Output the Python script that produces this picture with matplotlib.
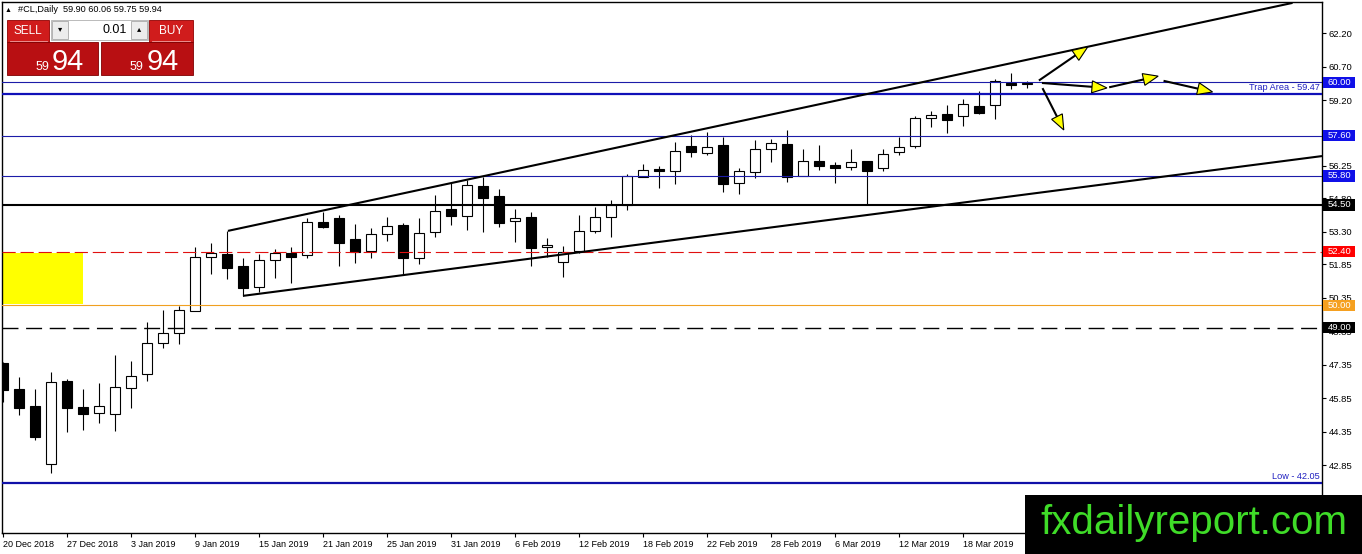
import matplotlib
matplotlib.use('Agg')
import matplotlib.pyplot as plt
from matplotlib.patches import Rectangle, Polygon
from matplotlib.transforms import blended_transform_factory
import numpy as np

plt.rcParams['font.family'] = ['Liberation Sans', 'DejaVu Sans']
plt.rcParams['lines.scale_dashes'] = False

# daily OHLC, #CL 20 Dec 2018 .. 22 Mar 2019
opens = [47.42, 46.26, 45.50, 42.90, 46.62, 45.45, 45.19, 45.14, 46.31, 46.93,
         48.32, 48.77, 49.75, 52.17, 52.31, 51.77, 50.83, 52.04, 52.35, 52.26,
         53.74, 53.92, 52.98, 52.44, 53.20, 53.60, 52.13, 53.29, 54.32, 54.01,
         55.35, 54.90, 53.78, 53.96, 52.62, 51.95, 52.44, 53.34, 53.96, 54.50,
         55.75, 56.11, 56.02, 57.14, 56.83, 57.19, 55.49, 55.98, 57.01, 57.23,
         55.80, 56.47, 56.29, 56.20, 56.47, 56.16, 56.87, 57.14, 58.40, 58.57,
         58.49, 58.93, 58.98, 59.96, 59.90]
highs = [47.45, 46.80, 46.26, 47.02, 46.71, 46.26, 46.53, 47.78, 47.51, 49.26,
         49.80, 49.98, 52.62, 52.80, 53.34, 52.13, 52.31, 52.53, 52.62, 53.92,
         54.19, 54.05, 53.65, 53.47, 53.96, 53.69, 53.92, 54.95, 55.49, 55.62,
         55.75, 55.22, 54.32, 54.19, 53.02, 52.66, 54.05, 54.41, 54.72, 55.89,
         56.34, 56.25, 57.32, 57.64, 57.77, 57.55, 56.16, 57.41, 57.46, 57.86,
         57.01, 57.19, 56.43, 57.01, 56.47, 57.01, 57.55, 58.49, 58.71, 58.98,
         59.25, 59.60, 60.14, 60.41, 60.06]
lows = [45.68, 45.10, 43.98, 42.50, 44.34, 44.43, 44.74, 44.38, 45.41, 46.62,
        48.10, 48.28, 49.75, 51.41, 51.19, 50.43, 50.60, 51.23, 51.01, 52.13,
        53.47, 51.77, 51.90, 52.13, 52.89, 51.37, 51.86, 53.07, 53.60, 53.38,
        53.29, 53.52, 52.84, 51.77, 52.17, 51.28, 52.35, 53.25, 53.07, 54.28,
        55.75, 55.26, 55.44, 56.65, 56.74, 55.08, 54.99, 55.71, 56.43, 55.53,
        55.80, 56.07, 55.49, 56.07, 54.55, 56.02, 56.74, 57.05, 57.99, 57.72,
        58.04, 58.57, 58.35, 59.69, 59.75]
closes = [46.22, 45.41, 44.11, 46.57, 45.41, 45.14, 45.50, 46.35, 46.84, 48.32,
          48.77, 49.80, 52.17, 52.35, 51.68, 50.78, 52.04, 52.35, 52.17, 53.74,
          53.52, 52.80, 52.40, 53.20, 53.56, 52.13, 53.25, 54.23, 54.01, 55.40,
          54.81, 53.69, 53.92, 52.57, 52.71, 52.40, 53.34, 53.96, 54.50, 55.80,
          56.07, 56.02, 56.92, 56.87, 57.10, 55.44, 56.02, 57.01, 57.28, 55.75,
          56.47, 56.25, 56.16, 56.43, 56.02, 56.78, 57.10, 58.40, 58.53, 58.31,
          59.02, 58.62, 60.05, 59.87, 59.94]

date_labels = ['20 Dec 2018', '27 Dec 2018', '3 Jan 2019', '9 Jan 2019',
               '15 Jan 2019', '21 Jan 2019', '25 Jan 2019', '31 Jan 2019',
               '6 Feb 2019', '12 Feb 2019', '18 Feb 2019', '22 Feb 2019',
               '28 Feb 2019', '6 Mar 2019', '12 Mar 2019', '18 Mar 2019']
date_every = 4

price_ticks = [62.20, 60.70, 59.20, 57.70, 56.25, 54.80, 53.30, 51.85,
               50.35, 48.85, 47.35, 45.85, 44.35, 42.85, 41.40]

# horizontal levels: price, colour, width, dash, tag colour (None = no tag)
levels = [
    (60.00, '#1c1ca8', 0.8, None, '#1010e8'),
    (59.47, '#1010b8', 1.6, None, None),
    (57.60, '#1c1ca8', 0.8, None, '#1010e8'),
    (55.80, '#1c1ca8', 0.8, None, '#1010e8'),
    (54.50, 'black', 1.5, None, 'black'),
    (52.40, '#e01010', 0.8, (9.5, 3.5), '#ff0000'),
    (50.00, '#f0a020', 0.8, None, '#f5a020'),
    (49.00, 'black', 1.0, (11.5, 5.5), 'black'),
    (42.05, '#1010a8', 1.6, None, None),
]
level_notes = {59.47: 'Trap Area - 59.47', 42.05: 'Low - 42.05'}

yellow_zone = (50.06, 52.35)
yellow_bars = (-0.1, 5.0)

trendlines = [((14.06, 53.34), (80.6, 63.55)),
              ((15.0, 50.43), (82.44, 56.69))]

arrows = [((64.8, 60.10), (67.8, 61.58)),
          ((65.0, 59.96), (69.0, 59.74)),
          ((69.2, 59.78), (72.2, 60.27)),
          ((72.6, 60.05), (75.6, 59.56)),
          ((65.0, 59.69), (66.3, 57.86))]

W, H = 1362, 554
fig = plt.figure(figsize=(W / 100, H / 100), dpi=100)
fig.patch.set_facecolor('white')
ax = fig.add_axes([2 / W, 21 / H, 1320 / W, 531 / H])
ax.set_xlim(-0.0625, 82.44)
ax.set_ylim(39.81, 63.59)

o = np.array(opens); c = np.array(closes)
x = np.arange(len(o))
up = c >= o
ax.vlines(x, lows, highs, color='black', lw=0.8, zorder=3)
ax.bar(x, np.maximum(np.abs(c - o), 0.05), width=0.66, bottom=np.minimum(o, c),
       color=np.where(up, 'white', 'black'), edgecolor='black', linewidth=0.8, zorder=4)

ax.add_patch(Rectangle((yellow_bars[0], yellow_zone[0]), yellow_bars[1] - yellow_bars[0],
                       yellow_zone[1] - yellow_zone[0], fc='#ffff00', ec='none', zorder=1))

blend = blended_transform_factory(ax.transAxes, ax.transData)
for price, col, lw, dash, tag in levels:
    ln = ax.axhline(price, color=col, lw=lw, zorder=5)
    if dash:
        ln.set_dashes(dash)
    if tag:
        ax.add_patch(Rectangle((1.0008, price - 0.25), 0.0245, 0.5, transform=blend,
                               fc=tag, ec='none', clip_on=False, zorder=8))
        ax.text(1.0131, price, '%.2f' % price, transform=blend, ha='center', va='center',
                color='white', fontsize=6.8, clip_on=False, zorder=9)
    if price in level_notes:
        ax.text(0.9985, price + 0.07, level_notes[price], transform=blend, ha='right',
                va='bottom', color='#2020c0', fontsize=6.6, zorder=9)

for (x0, y0), (x1, y1) in trendlines:
    ax.plot([x0, x1], [y0, y1], color='black', lw=1.5, zorder=6, solid_capstyle='butt')


def draw_arrow(p0, p1):
    a = ax.transData.transform(p0)
    b = ax.transData.transform(p1)
    d = b - a
    u = d / np.hypot(*d)
    n = np.array([-u[1], u[0]])
    base = b - u * 15
    tri = np.array([b, base + n * 6, base - n * 6])
    inv = ax.transData.inverted()
    bd = inv.transform(base)
    ax.plot([p0[0], bd[0]], [p0[1], bd[1]], color='black', lw=1.5, zorder=7)
    ax.add_patch(Polygon(inv.transform(tri), closed=True, fc='#ffff00', ec='black',
                         lw=0.8, zorder=7))


for p0, p1 in arrows:
    draw_arrow(p0, p1)

ax.yaxis.tick_right()
ax.set_yticks(price_ticks)
ax.set_yticklabels(['%.2f' % p for p in price_ticks])
ax.set_xticks(np.arange(len(date_labels)) * date_every)
ax.set_xticklabels(date_labels, ha='left')
ax.tick_params(axis='y', right=True, left=False, length=3, width=0.8, labelsize=6.8, pad=2)
ax.tick_params(axis='x', length=3, width=0.8, labelsize=6.5, pad=2)
for sp in ax.spines.values():
    sp.set_linewidth(1.0)
    sp.set_color('black')

# overlay in pixel coordinates for the trading panel and logo
ov = fig.add_axes([0, 0, 1, 1], zorder=10)
ov.set_xlim(0, W)
ov.set_ylim(H, 0)
ov.axis('off')

ov.text(5, 10, '\u25b2', fontsize=5, va='center', ha='left')
ov.text(18, 10, '#CL,Daily  59.90 60.06 59.75 59.94', fontsize=6.6, va='center', ha='left')

red = '#d01c1c'
dark = '#b80f12'
ov.add_patch(Rectangle((7, 20), 42, 22, fc=red, ec='#900000', lw=0.6))
ov.text(28, 31, 'SELL', color='white', fontsize=8.5, ha='center', va='center')
ov.add_patch(Rectangle((149, 20), 44, 22, fc=red, ec='#900000', lw=0.6))
ov.text(171, 31, 'BUY', color='white', fontsize=8.5, ha='center', va='center')
ov.add_patch(Rectangle((51, 20), 97, 20, fc='white', ec='#b0b0b0', lw=0.6))
ov.add_patch(Rectangle((52, 21), 16, 18, fc='#ececec', ec='#a8a8a8', lw=0.6))
ov.add_patch(Rectangle((131, 21), 16, 18, fc='#ececec', ec='#a8a8a8', lw=0.6))
ov.text(60, 30, '\u25be', fontsize=6, ha='center', va='center')
ov.text(139, 30, '\u25b4', fontsize=6, ha='center', va='center')
ov.text(127, 30, '0.01', fontsize=9, ha='right', va='center')
ov.add_patch(Rectangle((7, 42), 91, 33, fc=dark, ec='#800000', lw=0.6))
ov.add_patch(Rectangle((101, 42), 92, 33, fc=dark, ec='#800000', lw=0.6))
ov.plot([10, 47], [41, 41], color='#f0a0a0', lw=0.6)
ov.plot([152, 190], [41, 41], color='#f0a0a0', lw=0.6)
for xs, xb in [(49, 52), (143, 147)]:
    ov.text(xs, 70, '59', color='white', fontsize=9, ha='right', va='baseline')
    ov.text(xb, 70, '94', color='white', fontsize=21, ha='left', va='baseline')

ov.add_patch(Rectangle((1025, 495), W - 1025, H - 495, fc='black', ec='none'))
ov.text(1040, 534, 'fxdailyreport.com', color='#3fdc28', fontsize=29,
        ha='left', va='baseline')

fig.savefig('out.png', dpi=100, facecolor='white')
